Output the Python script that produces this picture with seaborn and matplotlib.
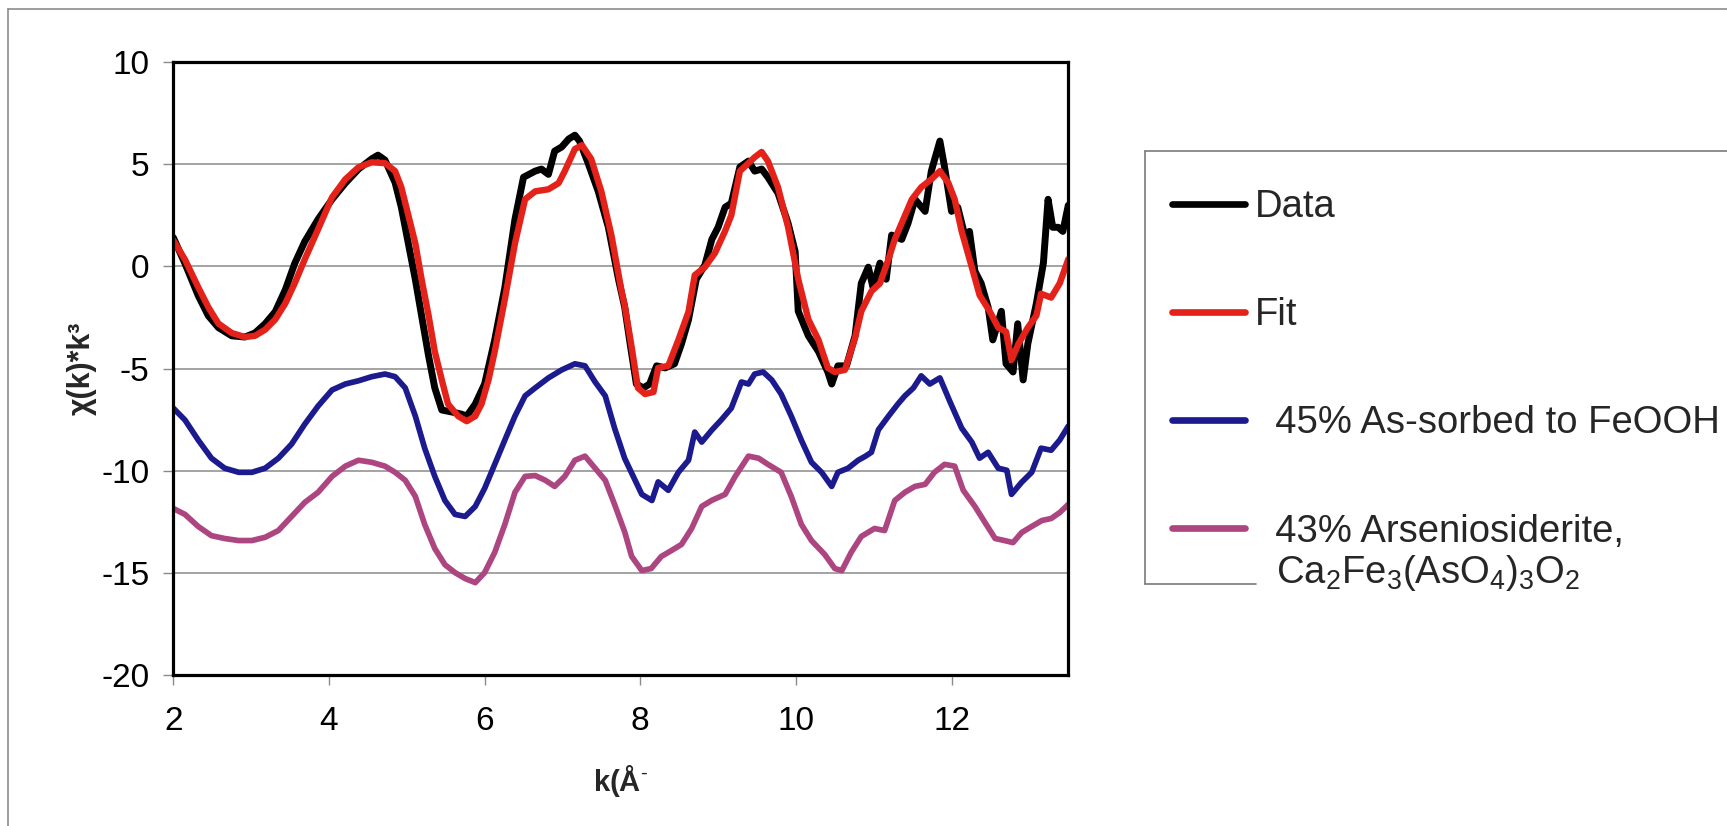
import numpy as np
import pandas as pd
import matplotlib
matplotlib.use("Agg")
import matplotlib.pyplot as plt
from matplotlib.lines import Line2D
import seaborn as sns

# ---------------- data ----------------
k_data = [2.00, 2.15, 2.32, 2.45, 2.58, 2.75, 2.92, 3.05, 3.18, 3.31, 3.44, 3.56, 3.69, 3.86,
          4.04, 4.21, 4.38, 4.55, 4.63, 4.72, 4.85, 4.93, 5.02, 5.11, 5.19, 5.28, 5.36, 5.45,
          5.58, 5.70, 5.77, 5.88, 6.00, 6.13, 6.26, 6.39, 6.50, 6.65, 6.73, 6.82, 6.90, 6.99,
          7.08, 7.16, 7.22, 7.33, 7.46, 7.59, 7.72, 7.80, 7.87, 7.95, 8.04, 8.12, 8.21, 8.32,
          8.44, 8.53, 8.62, 8.72, 8.83, 8.92, 9.00, 9.09, 9.17, 9.28, 9.39, 9.47, 9.56, 9.64,
          9.77, 9.90, 9.99, 10.03, 10.16, 10.29, 10.41, 10.46, 10.54, 10.65, 10.76, 10.84,
          10.93, 10.99, 11.08, 11.16, 11.23, 11.36, 11.44, 11.53, 11.66, 11.74, 11.85, 11.91,
          12.00, 12.08, 12.17, 12.23, 12.30, 12.38, 12.47, 12.53, 12.64, 12.70, 12.79, 12.85,
          12.92, 12.98, 13.09, 13.18, 13.24, 13.30, 13.37, 13.43, 13.50]
chi_data = [1.41, 0.14, -1.43, -2.42, -3.00, -3.40, -3.46, -3.26, -2.81, -2.22, -1.14, 0.14, 1.22, 2.30,
            3.28, 4.07, 4.76, 5.26, 5.44, 5.20, 4.10, 2.89, 1.12, -0.64, -2.41, -4.38, -5.95, -7.03,
            -7.13, -7.23, -7.33, -6.74, -5.76, -3.60, -1.04, 2.30, 4.36, 4.66, 4.76, 4.50, 5.64, 5.84,
            6.23, 6.42, 6.13, 5.05, 3.67, 1.91, -0.63, -2.00, -3.79, -5.76, -5.95, -5.76, -4.87, -4.97,
            -4.77, -3.79, -2.61, -0.63, 0.06, 1.32, 1.91, 2.89, 3.09, 4.86, 5.15, 4.66, 4.76, 4.36,
            3.58, 2.10, 0.73, -2.20, -3.40, -4.17, -5.17, -5.76, -4.87, -4.87, -3.40, -0.83,
            -0.04, -1.02, 0.16, -0.63, 1.53, 1.32, 2.10, 3.28, 2.69, 4.66, 6.13, 4.86,
            2.69, 2.89, 1.51, 1.71, -0.24, -0.83, -2.00, -3.60, -2.20, -4.77, -5.17, -2.81,
            -5.56, -3.79, -1.81, 0.16, 3.28, 1.91, 1.91, 1.71, 2.99]

k_fit = [2.00, 2.15, 2.32, 2.45, 2.58, 2.75, 2.92, 3.05, 3.18, 3.31, 3.44, 3.56, 3.69, 3.86,
         4.04, 4.21, 4.38, 4.55, 4.72, 4.85, 4.93, 5.02, 5.11, 5.19, 5.28, 5.36, 5.45, 5.53,
         5.66, 5.77, 5.88, 5.96, 6.05, 6.13, 6.26, 6.39, 6.52, 6.65, 6.82, 6.95, 7.03, 7.16,
         7.25, 7.37, 7.50, 7.63, 7.76, 7.80, 7.89, 7.97, 8.06, 8.17, 8.23, 8.36, 8.49, 8.62,
         8.70, 8.83, 8.96, 9.09, 9.17, 9.28, 9.39, 9.47, 9.56, 9.64, 9.77, 9.90, 10.03, 10.16,
         10.29, 10.41, 10.50, 10.63, 10.76, 10.84, 10.97, 11.08, 11.19, 11.27, 11.38, 11.49,
         11.61, 11.74, 11.85, 11.96, 12.04, 12.13, 12.26, 12.36, 12.49, 12.60, 12.70, 12.77,
         12.86, 12.98, 13.09, 13.15, 13.28, 13.39, 13.50]
chi_fit = [1.28, 0.33, -1.02, -2.00, -2.80, -3.26, -3.46, -3.40, -3.10, -2.60, -1.81, -0.83, 0.35, 1.81,
           3.38, 4.26, 4.85, 5.09, 5.05, 4.66, 3.87, 2.50, 1.12, -0.63, -2.40, -4.17, -5.56, -6.74,
           -7.33, -7.58, -7.33, -6.74, -5.56, -4.17, -1.61, 1.12, 3.28, 3.67, 3.77, 4.07, 4.66, 5.74,
           5.93, 5.25, 3.67, 1.51, -1.22, -1.90, -3.97, -5.95, -6.25, -6.15, -4.97, -4.87, -3.60, -2.22,
           -0.43, -0.04, 0.65, 1.73, 2.50, 4.66, 5.05, 5.34, 5.60, 5.15, 3.87, 1.91, -0.63, -2.60,
           -3.60, -4.97, -5.17, -5.07, -3.50, -2.20, -1.22, -0.83, 0.35, 1.32, 2.30, 3.28,
           3.87, 4.26, 4.66, 4.07, 3.28, 1.71, -0.04, -1.41, -2.20, -3.00, -3.20, -4.58,
           -3.79, -3.00, -2.41, -1.34, -1.53, -0.83, 0.35]

k_feooh = [2.00, 2.15, 2.32, 2.49, 2.66, 2.84, 3.01, 3.18, 3.35, 3.52, 3.69, 3.86, 4.04, 4.21,
           4.38, 4.55, 4.72, 4.85, 4.98, 5.11, 5.23, 5.36, 5.49, 5.62, 5.75, 5.88, 6.00, 6.13,
           6.26, 6.39, 6.52, 6.65, 6.82, 6.99, 7.16, 7.29, 7.42, 7.55, 7.67, 7.80, 7.91, 8.02,
           8.15, 8.23, 8.36, 8.49, 8.62, 8.70, 8.79, 8.92, 9.04, 9.17, 9.30, 9.39, 9.47, 9.58,
           9.69, 9.81, 9.94, 10.07, 10.20, 10.33, 10.46, 10.54, 10.67, 10.80, 10.89, 10.97,
           11.06, 11.19, 11.31, 11.40, 11.51, 11.61, 11.72, 11.85, 11.98, 12.13, 12.26, 12.36,
           12.47, 12.60, 12.71, 12.77, 12.90, 13.03, 13.15, 13.28, 13.39, 13.50]
chi_feooh = [-6.94, -7.52, -8.50, -9.39, -9.88, -10.08, -10.08, -9.88, -9.39, -8.70, -7.72, -6.84, -6.05, -5.76,
             -5.60, -5.40, -5.27, -5.40, -5.95, -7.33, -8.90, -10.28, -11.46, -12.14, -12.24, -11.75, -10.87, -9.69,
             -8.50, -7.33, -6.34, -5.95, -5.46, -5.07, -4.77, -4.87, -5.66, -6.34, -7.92, -9.40, -10.28, -11.16,
             -11.46, -10.55, -10.96, -10.08, -9.49, -8.11, -8.60, -8.01, -7.52, -6.94, -5.66, -5.76, -5.27, -5.17,
             -5.56, -6.25, -7.33, -8.51, -9.59, -10.08, -10.77, -10.08, -9.88, -9.49, -9.30, -9.10,
             -8.00, -7.33, -6.74, -6.34, -5.95, -5.36, -5.76, -5.46, -6.63, -7.92, -8.60, -9.39,
             -9.10, -9.88, -9.98, -11.16, -10.57, -10.08, -8.90, -9.00, -8.50, -7.82]

k_arsen = [2.00, 2.15, 2.32, 2.49, 2.66, 2.84, 3.01, 3.18, 3.35, 3.52, 3.69, 3.86, 4.04, 4.21,
           4.38, 4.55, 4.72, 4.85, 4.98, 5.11, 5.23, 5.36, 5.49, 5.62, 5.75, 5.88, 6.00, 6.13,
           6.26, 6.39, 6.52, 6.65, 6.78, 6.90, 7.03, 7.16, 7.29, 7.42, 7.55, 7.67, 7.80, 7.89,
           8.02, 8.14, 8.27, 8.40, 8.53, 8.66, 8.79, 8.92, 9.09, 9.22, 9.39, 9.52, 9.64, 9.81,
           9.94, 10.07, 10.20, 10.37, 10.50, 10.59, 10.71, 10.84, 11.01, 11.14, 11.27, 11.40,
           11.53, 11.66, 11.78, 11.91, 12.04, 12.15, 12.30, 12.43, 12.56, 12.68, 12.79, 12.90,
           13.03, 13.16, 13.28, 13.39, 13.50]
chi_arsen = [-11.85, -12.14, -12.73, -13.18, -13.32, -13.42, -13.42, -13.26, -12.93, -12.24, -11.55, -11.06, -10.28, -9.78,
             -9.49, -9.59, -9.78, -10.08, -10.47, -11.26, -12.63, -13.81, -14.60, -14.99, -15.28, -15.48, -14.99, -14.00,
             -12.63, -11.06, -10.28, -10.24, -10.47, -10.77, -10.28, -9.49, -9.29, -9.88, -10.47, -11.65, -13.00, -14.20,
             -14.89, -14.79, -14.20, -13.91, -13.61, -12.83, -11.75, -11.45, -11.16, -10.28, -9.29, -9.39, -9.69, -10.08,
             -11.26, -12.63, -13.42, -14.10, -14.79, -14.89, -14.00, -13.22, -12.83, -12.93, -11.46, -11.06,
             -10.77, -10.67, -10.08, -9.69, -9.78, -10.96, -11.75, -12.54, -13.32, -13.42, -13.52, -13.03,
             -12.73, -12.44, -12.34, -12.05, -11.65]

series_names = ["Data", "Fit", "45% As-sorbed to FeOOH", "43% Arseniosiderite,"]
x_ticks = [2, 4, 6, 8, 10, 12]
y_ticks = [-20, -15, -10, -5, 0, 5, 10]

# ---------------- style ----------------
sns.set_theme(style="white")
plt.rcParams["font.family"] = ["Liberation Sans", "DejaVu Sans"]
plt.rcParams["mathtext.fontset"] = "custom"
plt.rcParams["mathtext.rm"] = "Liberation Sans"
plt.rcParams["mathtext.it"] = "Liberation Sans"
plt.rcParams["mathtext.bf"] = "Liberation Sans:bold"
plt.rcParams["mathtext.default"] = "regular"

W, H = 1727, 826
fig = plt.figure(figsize=(W / 100, H / 100), dpi=100)
fig.patch.set_facecolor("white")

ax_l, ax_r, ax_t, ax_b = 173.3, 1068.3, 62.0, 675.0
ax = fig.add_axes([ax_l / W, 1 - ax_b / H, (ax_r - ax_l) / W, (ax_b - ax_t) / H])

colors = {"Data": "#000000", "Fit": "#e4221a",
          "45% As-sorbed to FeOOH": "#1b1a8e", "43% Arseniosiderite,": "#ad4680"}
widths = {"Data": 5.0, "Fit": 4.6, "45% As-sorbed to FeOOH": 4.1, "43% Arseniosiderite,": 4.1}

frames = [
    pd.DataFrame({"k": k_arsen, "chi": chi_arsen, "series": series_names[3]}),
    pd.DataFrame({"k": k_feooh, "chi": chi_feooh, "series": series_names[2]}),
    pd.DataFrame({"k": k_data, "chi": chi_data, "series": series_names[0]}),
    pd.DataFrame({"k": k_fit, "chi": chi_fit, "series": series_names[1]}),
]
for df in frames:
    name = df["series"].iloc[0]
    sns.lineplot(data=df, x="k", y="chi", color=colors[name], linewidth=widths[name],
                 sort=False, estimator=None, legend=False, ax=ax)

ax.set_xlim(2, 13.5)
ax.set_ylim(-20, 10)
ax.set_xticks(x_ticks)
ax.set_yticks(y_ticks)
ax.set_xticklabels([str(t) for t in x_ticks])
ax.set_yticklabels([str(t) for t in y_ticks])
ax.yaxis.grid(True, color="#8a8a8a", linewidth=1.1)
ax.xaxis.grid(False)
ax.set_axisbelow(True)
for s in ax.spines.values():
    s.set_color("black")
    s.set_linewidth(2.3)
    s.set_visible(True)
ax.tick_params(axis="both", direction="out", length=7, width=1.0, color="#8a8a8a",
               labelsize=24, labelcolor="black")
ax.tick_params(axis="x", pad=15.5, bottom=True)
ax.tick_params(axis="y", pad=10, left=True)

ax.set_xlabel(r"k(Å$^{\text{-}}$", fontsize=21, fontweight="bold")
ax.set_ylabel("χ(k)*k³", fontsize=22, fontweight="bold")
ax.xaxis.set_label_coords(0.5, -0.143)
ax.yaxis.set_label_coords(-0.086, 0.5)

# ---------------- legend ----------------
handles = [Line2D([], [], color=colors[n], linewidth=4.8) for n in series_names]
labels = ["Data", "Fit", "  45% As-sorbed to FeOOH", "  43% Arseniosiderite,"]
leg = fig.legend(handles, labels, loc="upper left",
                 bbox_to_anchor=(1172 / W, 1 - 189 / H), bbox_transform=fig.transFigure,
                 frameon=False, fontsize=27.5, handlelength=1.9, handletextpad=0.26,
                 labelspacing=1.89, borderpad=0, borderaxespad=0)
fig.text(1276 / W, 1 - 583 / H, "Ca$_2$Fe$_3$(AsO$_4$)$_3$O$_2$", fontsize=27.5,
         ha="left", va="baseline")

# legend box (left, top, partially hidden bottom)
bc = "#7a7a7a"
fig.add_artist(Line2D([1145 / W, 1145 / W], [1 - 151 / H, 1 - 584 / H], color=bc, lw=1.2,
                      transform=fig.transFigure))
fig.add_artist(Line2D([1145 / W, 1.0], [1 - 151 / H, 1 - 151 / H], color=bc, lw=1.2,
                      transform=fig.transFigure))
fig.add_artist(Line2D([1145 / W, 1256 / W], [1 - 584 / H, 1 - 584 / H], color=bc, lw=1.2,
                      transform=fig.transFigure))

# outer chart border (left and top visible)
oc = "#8c8c8c"
fig.add_artist(Line2D([8 / W, 8 / W], [1 - 9 / H, 0.0], color=oc, lw=1.2,
                      transform=fig.transFigure))
fig.add_artist(Line2D([8 / W, 1.0], [1 - 9 / H, 1 - 9 / H], color=oc, lw=1.2,
                      transform=fig.transFigure))

fig.savefig("out.png", dpi=100)
